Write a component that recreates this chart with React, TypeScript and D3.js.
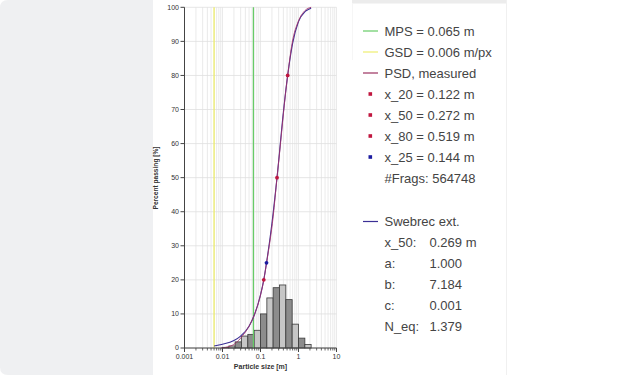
import React from 'react';
import * as d3 from 'd3';

// histogram: bin edges (m) and share per bin (%)
const binEdges = [0.01, 0.0147, 0.0215, 0.0316, 0.0464, 0.0681, 0.1, 0.147, 0.215, 0.316, 0.464, 0.681, 1, 1.47, 2.15];
const binShare = [0.2, 0.6, 1.8, 3.5, 4.0, 5.2, 10.0, 14.7, 17.7, 18.5, 14.2, 7.0, 2.9, 1.0];

// measured PSD (cumulative)
const measuredSize = [0.009, 0.0147, 0.0215, 0.0316, 0.0464, 0.0681, 0.1, 0.122, 0.147, 0.215, 0.272, 0.316, 0.464, 0.519, 0.681, 1, 1.47, 2.15];
const measuredPass = [0, 0.4, 1.3, 3.2, 5.8, 9.6, 15.5, 20, 25.5, 38.5, 50, 57, 75.5, 80, 89.5, 96, 99, 100];

// swebrec fit
const sweSize = [0.006, 0.01, 0.02, 0.03, 0.05, 0.07, 0.1, 0.122, 0.144, 0.2, 0.272, 0.4, 0.519, 0.7, 1, 1.5, 2, 2.15];
const swePass = [0.6, 1.1, 2.2, 3.5, 6.4, 9.9, 15.6, 20, 25, 36.6, 50, 69.2, 80, 89.4, 95.8, 98.8, 99.6, 99.8];

const markerSize = [0.122, 0.272, 0.519, 0.144];
const markerPass = [20, 50, 80, 25];
const markerColor = ['#c0163f', '#c0163f', '#c0163f', '#1c1ca0'];

const mps = 0.065;
const gsd = 0.006;

const xTicks = [0.001, 0.01, 0.1, 1, 10];
const xTickLabels = ['0.001', '0.01', '0.1', '1', '10'];
const yTicks = [0, 10, 20, 30, 40, 50, 60, 70, 80, 90, 100];

const legendTop = ['MPS = 0.065 m', 'GSD = 0.006 m/px', 'PSD, measured', 'x_20 = 0.122 m', 'x_50 = 0.272 m', 'x_80 = 0.519 m', 'x_25 = 0.144 m', '#Frags: 564748'];
const legendTopKind = ['line', 'line', 'line', 'dot', 'dot', 'dot', 'dot', 'none'];
const legendTopColor = ['#66cc66', '#eeee70', '#9b2f5e', '#c0163f', '#c0163f', '#c0163f', '#1c1ca0', ''];
const fitNames = ['x_50:', 'a:', 'b:', 'c:', 'N_eq:'];
const fitValues = ['0.269 m', '1.000', '7.184', '0.001', '1.379'];

const font = 'Liberation Sans, Arial, sans-serif';

export default function App() {
  const x = d3.scaleLog().domain([0.001, 10]).range([184.5, 336.5]);
  const y = d3.scaleLinear().domain([0, 100]).range([348, 7.3]);

  // minor ticks 2..9 per decade
  const minor: number[] = [];
  for (let d = 0.001; d < 10; d *= 10) {
    for (let k = 2; k <= 9; k++) minor.push(+(d * k).toPrecision(3));
  }

  const measuredLine = d3.line<number>()
    .x((_, i) => x(measuredSize[i]))
    .y((v) => y(v))
    .curve(d3.curveMonotoneX)(measuredPass);
  const sweLine = d3.line<number>()
    .x((_, i) => x(sweSize[i]))
    .y((v) => y(v))
    .curve(d3.curveMonotoneX)(swePass);

  return (
    <svg width={630} height={375} style={{ position: 'fixed', left: 0, top: 0 }} fontFamily={font}>
      <rect x={0} y={0} width={630} height={375} fill="#fff" />
      <path d="M0,8 Q0,0 8,0 H153 V375 H8 Q0,375 0,367 Z" fill="#eff0f2" />
      <rect x={352} y={0} width={155} height={3.5} fill="#ececec" />
      <line x1={506.5} x2={506.5} y1={0} y2={375} stroke="#f0f0f0" />
      <line x1={352.5} x2={352.5} y1={4} y2={60} stroke="#f6f6f6" />

      {/* grid */}
      {minor.concat(xTicks).map((v, i) => (
        <line key={'gx' + i} x1={x(v)} x2={x(v)} y1={y(100)} y2={y(0)} stroke="#e4e4e4" strokeWidth={0.8} />
      ))}
      {yTicks.map((v) => (
        <line key={'gy' + v} x1={x(0.001)} x2={x(10)} y1={y(v)} y2={y(v)} stroke="#e0e0e0" strokeWidth={0.8} />
      ))}

      {/* histogram */}
      {binShare.map((v, i) => (
        <rect key={'b' + i} x={x(binEdges[i])} y={y(v)} width={x(binEdges[i + 1]) - x(binEdges[i])}
          height={y(0) - y(v)} fill={i % 2 === 0 ? '#8c8c8c' : '#c6c6c6'} stroke="#3a3a3a" strokeWidth={0.8} />
      ))}

      {/* reference lines */}
      <line x1={x(gsd)} x2={x(gsd)} y1={y(100)} y2={y(0)} stroke="#eeee60" strokeWidth={1.2} />
      <line x1={x(mps)} x2={x(mps)} y1={y(100)} y2={y(0)} stroke="#66cc66" strokeWidth={1.2} />

      <path d={sweLine || ''} fill="none" stroke="#3b2f95" strokeWidth={1.1} />
      <path d={measuredLine || ''} fill="none" stroke="#a3336a" strokeWidth={1} strokeOpacity={0.85} />

      {markerSize.map((v, i) => (
        <circle key={'m' + i} cx={x(v)} cy={y(markerPass[i])} r={1.9} fill={markerColor[i]} />
      ))}

      {/* axes */}
      <line x1={x(0.001)} x2={x(0.001)} y1={y(100)} y2={y(0)} stroke="#444" />
      <line x1={x(0.001)} x2={x(10)} y1={y(0)} y2={y(0)} stroke="#444" />
      {yTicks.map((v) => (
        <g key={'ty' + v}>
          <line x1={x(0.001) - 4} x2={x(0.001)} y1={y(v)} y2={y(v)} stroke="#444" />
          <text x={x(0.001) - 5.5} y={y(v) + 2.4} fontSize={7} textAnchor="end" fill="#333">{v}</text>
        </g>
      ))}
      {xTicks.map((v, i) => (
        <g key={'tx' + i}>
          <line x1={x(v)} x2={x(v)} y1={y(0)} y2={y(0) + 4} stroke="#444" />
          <text x={x(v)} y={y(0) + 11} fontSize={7} textAnchor="middle" fill="#333">{xTickLabels[i]}</text>
        </g>
      ))}
      {minor.map((v, i) => (
        <line key={'mt' + i} x1={x(v)} x2={x(v)} y1={y(0)} y2={y(0) + 2.5} stroke="#444" strokeWidth={0.8} />
      ))}
      <text x={260.5} y={369} fontSize={7} fontWeight="bold" textAnchor="middle" fill="#333">Particle size [m]</text>
      <text transform="translate(158,178) rotate(-90)" fontSize={6.6} fontWeight="bold" textAnchor="middle" fill="#333">Percent passing [%]</text>

      {/* legend */}
      {legendTop.map((t, i) => {
        const ly = 31 + i * 21;
        return (
          <g key={'l' + i}>
            {legendTopKind[i] === 'line' && <line x1={363} x2={378} y1={ly} y2={ly} stroke={legendTopColor[i]} strokeWidth={1.2} />}
            {legendTopKind[i] === 'dot' && <rect x={368.5} y={ly - 1.8} width={3.6} height={3.6} fill={legendTopColor[i]} />}
            <text x={384.5} y={ly + 4.6} fontSize={13} fill="#444">{t}</text>
          </g>
        );
      })}
      <line x1={363} x2={378} y1={221.5} y2={221.5} stroke="#3b2f95" strokeWidth={1.2} />
      <text x={384.5} y={226} fontSize={13} fill="#444">Swebrec ext.</text>
      {fitNames.map((t, i) => (
        <g key={'f' + i}>
          <text x={384.5} y={247.3 + i * 21} fontSize={13} fill="#444">{t}</text>
          <text x={429.5} y={247.3 + i * 21} fontSize={13} fill="#444">{fitValues[i]}</text>
        </g>
      ))}
    </svg>
  );
}
